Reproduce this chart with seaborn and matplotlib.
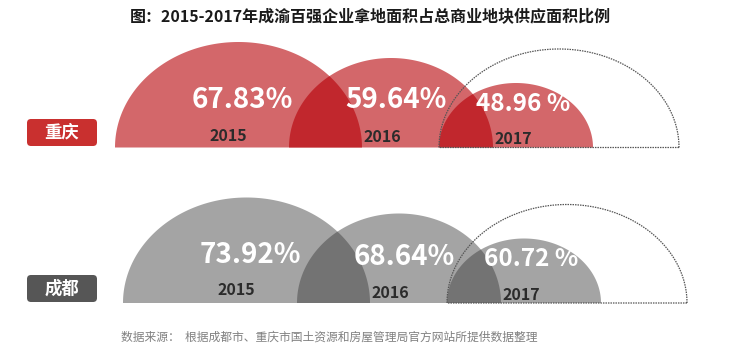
import numpy as np
import matplotlib
matplotlib.use("Agg")
import matplotlib.pyplot as plt
from matplotlib.patches import Polygon, FancyBboxPatch
import seaborn as sns

# ---- data ----
cities = ["重庆", "成都"]
years = ["2015", "2016", "2017"]
chongqing_pct = [67.83, 59.64, 48.96]
chengdu_pct = [73.92, 68.64, 60.72]
pct_suffix = ["%", "%", " %"]
title = "图：2015-2017年成渝百强企业拿地面积占总商业地块供应面积比例"
source = "数据来源：  根据成都市、重庆市国土资源和房屋管理局官方网站所提供数据整理"

sns.set_theme(style="white")
plt.rcParams["font.family"] = ["Noto Sans CJK SC", "DejaVu Sans"]

W, H = 740, 349
fig = plt.figure(figsize=(W / 100, H / 100), dpi=100)
ax = fig.add_axes([0, 0, 1, 1])
ax.set_xlim(0, W)
ax.set_ylim(H, 0)
ax.axis("off")
sns.despine(ax=ax, left=True, bottom=True)

# layout of the half-ellipses for each year slot (pixel units)
centers = [238.5, 391.0, 516.0]
rx = [123.5, 102.0, 77.0]
ry = [105.5, 89.5, 64.5]
ghost_center, ghost_rx, ghost_ry = 559.0, 120.0, 98.5
rows = [
    dict(base=147.5, dx=0, light="#d3676a", dark="#c1272d", box="#c9302f",
         pct_y=[100, 100, 104], yr_y=[136, 137, 139]),
    dict(base=303.0, dx=8, light="#a4a4a4", dark="#737373", box="#565656",
         pct_y=[255, 257, 259], yr_y=[290, 293, 295]),
]
box_y = [(119, 146), (275, 302)]
pct_dx = [3.5, 5.0, 7.0]
pct_size = [20, 20, 17.5]
yr_dx = [-10.5, -9.0, -3.0]


def half_ellipse(cx, base, a, b, n=240):
    t = np.linspace(0, np.pi, n)
    return np.column_stack([cx + a * np.cos(t), base - b * np.sin(t)])


for ci, (city, vals) in enumerate(zip(cities, [chongqing_pct, chengdu_pct])):
    r = rows[ci]
    shapes = []
    for k in range(len(years)):
        pts = half_ellipse(centers[k] + r["dx"], r["base"], rx[k], ry[k])
        p = Polygon(pts, closed=True, facecolor=r["light"], edgecolor="none", zorder=2)
        ax.add_patch(p)
        shapes.append(pts)
    # darker lens where neighbouring years overlap
    for k in range(1, len(years)):
        lens = Polygon(shapes[k], closed=True, facecolor=r["dark"], edgecolor="none", zorder=3)
        ax.add_patch(lens)
        clip = Polygon(shapes[k - 1], closed=True, transform=ax.transData)
        lens.set_clip_path(clip)
    # dotted outline of the full-size 2017 slot
    gpts = half_ellipse(ghost_center + r["dx"], r["base"], ghost_rx, ghost_ry)
    ax.add_patch(Polygon(gpts, closed=True, facecolor="none", edgecolor="#555555",
                         linewidth=0.9, linestyle=(0, (1.2, 0.8)), zorder=4))

    for k, (yr, v) in enumerate(zip(years, vals)):
        cx = centers[k] + r["dx"]
        ax.text(cx + pct_dx[k], r["pct_y"][k], f"{v:.2f}{pct_suffix[k]}",
                ha="center", va="center", color="white", fontsize=pct_size[k],
                fontweight="bold", zorder=5)
        ax.text(cx + yr_dx[k], r["yr_y"][k], yr, ha="center", va="center",
                color="#2b2b2b", fontsize=11.5, fontweight="bold", zorder=5)

    y0, y1 = box_y[ci]
    ax.add_patch(FancyBboxPatch((27, y0), 70, y1 - y0,
                                boxstyle="round,pad=0,rounding_size=4",
                                facecolor=r["box"], edgecolor="none", zorder=2))
    ax.text(62, (y0 + y1) / 2, city, ha="center", va="center", color="white",
            fontsize=12.5, fontweight="bold", zorder=5)

ax.text(370, 17, title, ha="center", va="center", fontsize=11.5,
        fontweight="bold", color="#1a1a1a")
ax.text(121, 337, source, ha="left", va="center", fontsize=8.5, color="#808080")

fig.savefig("out.png", dpi=100)
